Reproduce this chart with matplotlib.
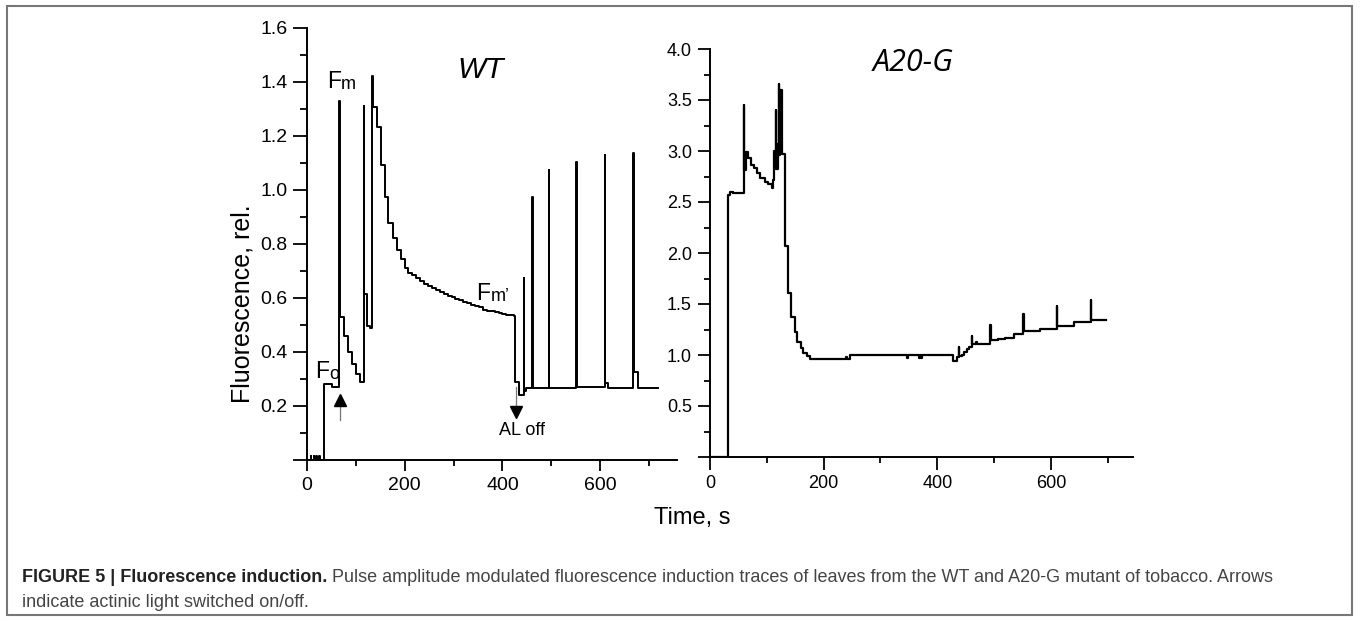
import matplotlib
matplotlib.use("Agg")
import matplotlib.pyplot as plt
from matplotlib.ticker import FixedLocator, FuncFormatter
from matplotlib.patches import Rectangle
from matplotlib.text import Annotation

plt.rcParams['font.family'] = ['Liberation Sans', 'DejaVu Sans']

# ---------------- data ----------------
wt_time = [0, 8, 9, 14, 15, 20, 21, 26, 27, 35, 51, 67, 68, 76, 84, 92, 100, 109,
           117, 118, 124, 129, 134, 135, 143, 151, 159, 167, 176, 184, 192, 200,
           208, 216, 224, 232, 240, 248, 256, 264, 272, 280, 288, 296, 304, 312,
           320, 328, 336, 344, 352, 360, 368, 376, 384, 392, 400, 408, 416, 424,
           426, 434, 444, 445, 449, 461, 462, 495, 496, 551, 552, 609, 610, 616,
           667, 668, 676, 717]
wt_fluo = [0.0, 0.015, 0.0, 0.015, 0.0, 0.015, 0.0, 0.015, 0.0, 0.28, 0.27, 1.33,
           0.53, 0.46, 0.40, 0.355, 0.32, 0.29,
           1.31, 0.615, 0.495, 0.487, 1.42, 1.305, 1.232, 1.092, 0.975, 0.876,
           0.82, 0.777, 0.744, 0.712,
           0.691, 0.683, 0.672, 0.662, 0.652, 0.645, 0.637, 0.628, 0.622, 0.615,
           0.608, 0.603, 0.597, 0.592,
           0.585, 0.580, 0.575, 0.570, 0.565, 0.557, 0.553, 0.550, 0.546, 0.543,
           0.541, 0.538, 0.535, 0.533,
           0.29, 0.241, 0.672, 0.255, 0.265, 0.975, 0.265, 1.073, 0.268, 1.104,
           0.27, 1.129, 0.285, 0.268,
           1.137, 0.327, 0.268, 0.268]

a20_time = [0, 32, 35, 40, 59, 60, 63, 67.5, 71.6, 77.5, 83.3, 88, 96.8, 102.7,
            108.6, 111.5, 113, 116, 117, 119, 121, 122, 123, 127.3, 132.6, 137.9,
            142.6, 149, 153.7, 159.6, 164.3, 170, 176, 240, 241, 246.5, 347, 348,
            368, 369, 372, 373, 428, 435.5, 438, 439, 443, 447, 452, 456.5, 460.5,
            461.5, 469, 470, 493, 494, 506, 520, 535, 551.5, 552.5, 581, 610, 611,
            640, 670, 671, 697]
a20_fluo = [0.0, 2.57, 2.60, 2.585, 3.45, 2.81, 2.99, 2.935, 2.86, 2.83, 2.78,
            2.74, 2.70, 2.675,
            2.64, 2.72, 3.0, 3.40, 2.82, 3.07, 3.66, 2.96, 3.60, 2.975, 2.07, 1.61,
            1.375, 1.23, 1.13, 1.065, 1.015, 0.99, 0.965, 0.985, 0.965, 1.0, 0.975,
            1.0,
            0.975, 1.0, 0.975, 1.0, 0.94, 0.98, 1.08, 0.99, 1.0, 1.03, 1.06, 1.08,
            1.185,
            1.107, 1.125, 1.107, 1.293, 1.146, 1.16, 1.17, 1.21, 1.40, 1.235, 1.255,
            1.48, 1.285,
            1.32, 1.54, 1.342, 1.342]

wt_xticks = [0, 200, 400, 600]
wt_yticks = [0, 0.2, 0.4, 0.6, 0.8, 1.0, 1.2, 1.4, 1.6]
a20_xticks = [0, 200, 400, 600]
a20_yticks = [0, 0.5, 1.0, 1.5, 2.0, 2.5, 3.0, 3.5, 4.0]

caption_bold = 'FIGURE 5 | Fluorescence induction.'
caption_rest = (' Pulse amplitude modulated fluorescence induction traces of leaves '
                'from the WT and A20-G mutant of tobacco. Arrows')
caption_line2 = 'indicate actinic light switched on/off.'

# ---------------- figure ----------------
W, H = 1360, 621
fig = plt.figure(figsize=(W / 100, H / 100), dpi=100)
fig.patch.set_facecolor('white')

def fx(px):
    return px / W

def fy(py):
    return 1 - py / H

ax1 = fig.add_axes([fx(306.7), fy(460), (676.7 - 306.7) / W, (460 - 27.7) / H])
ax2 = fig.add_axes([fx(710), fy(457), (1133.3 - 710) / W, (457 - 49) / H])

for ax in (ax1, ax2):
    ax.spines['top'].set_visible(False)
    ax.spines['right'].set_visible(False)
    for s in ('left', 'bottom'):
        ax.spines[s].set_linewidth(1.4)
    ax.tick_params(which='both', direction='out', width=1.3, colors='black')

ax1.plot(wt_time, wt_fluo, drawstyle='steps-post', color='black', lw=1.4)
ax1.set_xlim(0, 756)
ax1.set_ylim(0, 1.6)
ax1.xaxis.set_major_locator(FixedLocator(wt_xticks))
ax1.xaxis.set_minor_locator(FixedLocator([100, 300, 500, 700]))
ax1.yaxis.set_major_locator(FixedLocator(wt_yticks))
ax1.yaxis.set_minor_locator(FixedLocator([0.1, 0.3, 0.5, 0.7, 0.9, 1.1, 1.3, 1.5]))
ax1.yaxis.set_major_formatter(FuncFormatter(lambda v, p: '' if v == 0 else f'{v:.1f}'))
ax1.tick_params(axis='x', which='major', length=8, labelsize=14, pad=4)
ax1.tick_params(axis='x', which='minor', length=4)
ax1.tick_params(axis='y', which='major', length=10, labelsize=14, pad=4)
ax1.tick_params(axis='y', which='minor', length=5)

ax2.plot(a20_time, a20_fluo, drawstyle='steps-post', color='black', lw=1.6)
ax2.set_xlim(0, 745)
ax2.set_ylim(0, 4.0)
ax2.xaxis.set_major_locator(FixedLocator(a20_xticks))
ax2.xaxis.set_minor_locator(FixedLocator([100, 300, 500, 700]))
ax2.yaxis.set_major_locator(FixedLocator(a20_yticks))
ax2.yaxis.set_minor_locator(FixedLocator([0.25, 0.75, 1.25, 1.75, 2.25, 2.75, 3.25, 3.75]))
ax2.yaxis.set_major_formatter(FuncFormatter(lambda v, p: '' if v == 0 else f'{v:.1f}'))
ax2.tick_params(axis='x', which='major', length=9, labelsize=13, pad=4)
ax2.tick_params(axis='x', which='minor', length=4)
ax2.tick_params(axis='y', which='major', length=9, labelsize=13, pad=4)
ax2.tick_params(axis='y', which='minor', length=4)

# panel titles
ax1.text(356, 1.445, 'WT', fontsize=21.5, style='italic', ha='center', va='center')
ax2.text(358, 3.86, 'A20-G', fontsize=22, style='italic', ha='center', va='center',
         family=['Open Sans', 'DejaVu Sans'])

# F labels
def flabel(ax, x, y, sub):
    t = ax.text(x, y, 'F', fontsize=16.5, va='baseline', ha='left')
    ax.annotate(sub, xy=(1, 0), xycoords=t, fontsize=13, va='bottom', ha='left')

flabel(ax1, 17, 0.303, 'o')
flabel(ax1, 42, 1.376, 'm')
flabel(ax1, 347, 0.592, 'm\u2019')

# arrows (light on / off)
ax1.plot([68, 68], [0.148, 0.205], color='#777777', lw=0.9, clip_on=False)
ax1.plot([68], [0.221], marker='^', color='black', ms=9, clip_on=False)
ax1.plot([427, 427], [0.271, 0.195], color='#777777', lw=0.9, clip_on=False)
ax1.plot([427], [0.178], marker='v', color='black', ms=9, clip_on=False)
ax1.text(439, 0.094, 'AL off', fontsize=13, ha='center', va='baseline')

# axis labels
fig.text(fx(242.5), fy(304), 'Fluorescence, rel.', rotation=90, fontsize=18,
         ha='center', va='center')
fig.text(fx(692), fy(518), 'Time, s', fontsize=17, ha='center', va='center')

# caption
cap1 = fig.text(fx(22), fy(582), caption_bold, fontsize=13,
                fontweight='bold', color='#222222', va='baseline', ha='left')
ann = Annotation(caption_rest, xy=(1, 0), xycoords=cap1, fontsize=13,
                 color='#444444', va='bottom', ha='left')
fig.add_artist(ann)
fig.text(fx(22), fy(607), caption_line2, fontsize=13,
         color='#444444', va='baseline', ha='left')

# frame around the figure
fig.add_artist(Rectangle((fx(7), fy(615)), fx(1352) - fx(7), fy(6) - fy(615),
                         transform=fig.transFigure, fill=False,
                         edgecolor='#777777', lw=1.5))

fig.savefig('out.png', dpi=100)
